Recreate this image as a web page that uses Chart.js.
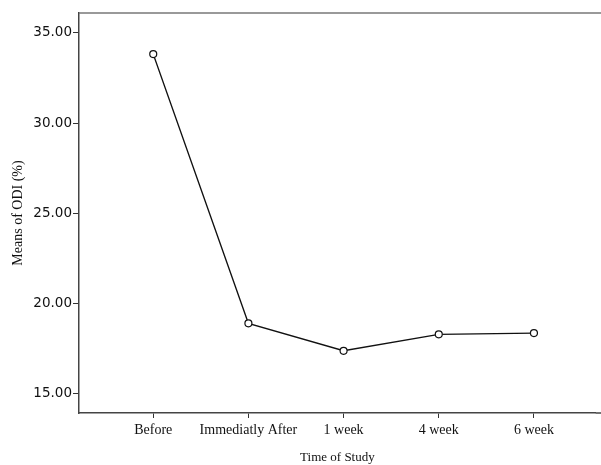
<!DOCTYPE html>
<html>
<head>
<meta charset="utf-8">
<script src="https://cdn.jsdelivr.net/npm/chart.js@4.4.1/dist/chart.umd.min.js"></script>
<style>
  html, body { margin: 0; padding: 0; background: #fff; overflow: hidden; }
  #wrap { width: 601px; height: 465px; position: relative; }
  canvas { display: block; }
</style>
</head>
<body>
<div id="wrap"><canvas id="myChart"></canvas></div>
<script>
// data
var times = ["Before", "Immediatly After", "1 week", "4 week", "6 week"]
var meanODI = [33.82, 18.89, 17.37, 18.28, 18.35]
var yTicks = [15, 20, 25, 30, 35]

var points = meanODI.map(function(v, i) { return { x: i, y: v } })

// top frame line, the picture has no right border
var topLine = {
    id: 'topLine',
    afterDraw: function(chart) {
        var a = chart.chartArea
        var ctx = chart.ctx
        ctx.save()
        ctx.strokeStyle = '#777'
        ctx.lineWidth = 1.5
        ctx.beginPath()
        ctx.moveTo(a.left, a.top)
        ctx.lineTo(chart.width, a.top)
        ctx.stroke()
        ctx.strokeStyle = '#444'
        ctx.beginPath()
        ctx.moveTo(a.right, a.bottom)
        ctx.lineTo(chart.width, a.bottom)
        ctx.stroke()
        ctx.restore()
    }
}

var ctx = document.getElementById("myChart").getContext('2d')

var chart = new Chart(ctx, {
    type: 'line',
    data: {
        datasets: [{
            data: points,
            borderColor: '#111',
            borderWidth: 1.4,
            pointRadius: 3.5,
            pointBorderWidth: 1.2,
            pointBorderColor: '#111',
            pointBackgroundColor: '#fff',
            tension: 0,
            fill: false
        }]
    },
    options: {
        responsive: true,
        maintainAspectRatio: false,
        animation: false,
        layout: { padding: { top: 13, right: 0, left: 0, bottom: 0 } },
        plugins: {
            legend: { display: false },
            tooltip: { enabled: false }
        },
        scales: {
            x: {
                type: 'linear',
                min: -0.78,
                max: 4.65,
                afterBuildTicks: function(scale) {
                    scale.ticks = times.map(function(t, i) { return { value: i } })
                },
                afterFit: function(scale) {
                    scale.height = 52
                    scale.paddingRight = 0
                },
                ticks: {
                    callback: function(v) { return times[v] },
                    color: '#111',
                    font: { family: 'Liberation Serif', size: 14 },
                    padding: 4,
                    maxRotation: 0,
                    autoSkip: false
                },
                grid: {
                    drawOnChartArea: false,
                    tickLength: 5,
                    color: '#333',
                    lineWidth: 1
                },
                border: { color: '#444', width: 1.5 },
                title: {
                    display: true,
                    text: 'Time of Study',
                    color: '#111',
                    font: { family: 'Liberation Serif', size: 13 },
                    padding: { top: 0, bottom: 0 }
                }
            },
            y: {
                min: 13.92,
                max: 36.1,
                afterBuildTicks: function(scale) {
                    scale.ticks = yTicks.map(function(v) { return { value: v } })
                },
                afterFit: function(scale) { scale.width = 79 },
                ticks: {
                    callback: function(v) { return v.toFixed(2) },
                    color: '#111',
                    font: { family: 'DejaVu Sans', size: 13.5 },
                    padding: 1
                },
                grid: {
                    drawOnChartArea: false,
                    tickLength: 6,
                    color: '#333',
                    lineWidth: 1
                },
                border: { color: '#444', width: 1.5 },
                title: {
                    display: true,
                    text: 'Means of ODI (%)',
                    color: '#111',
                    font: { family: 'Liberation Serif', size: 14 },
                    padding: { top: 10, bottom: 4 }
                }
            }
        }
    },
    plugins: [topLine]
})
</script>
</body>
</html>
